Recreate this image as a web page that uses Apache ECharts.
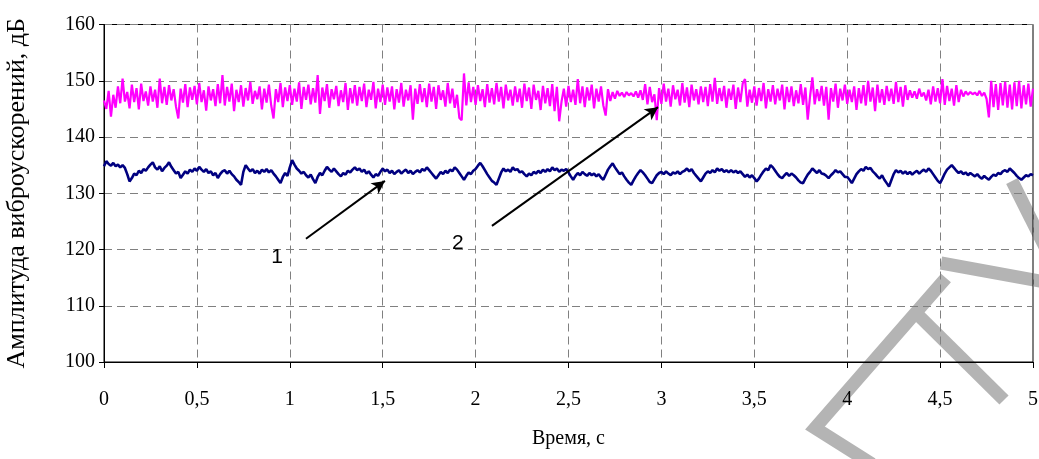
<!DOCTYPE html>
<html>
<head>
<meta charset="utf-8">
<script src="https://cdn.jsdelivr.net/npm/echarts@6/dist/echarts.min.js"></script>
<style>
html,body{margin:0;padding:0;background:#fff;}
#chart{width:1039px;height:459px;}
</style>
</head>
<body>
<div id="chart"></div>
<script>
// ---- data ----
const timeStep = 0.0125; // s between samples
const xTicks = [0, 0.5, 1, 1.5, 2, 2.5, 3, 3.5, 4, 4.5, 5];
const yTicks = [100, 110, 120, 130, 140, 150, 160];

const series2 = [ // magenta, curve 2
146.5,145.0,148.2,143.6,147.5,145.2,149.0,146.0,150.4,146.3,
148.0,145.1,149.3,146.2,148.7,144.9,149.5,146.4,148.1,145.6,
149.0,146.3,148.4,145.2,150.4,146.0,148.9,145.7,149.2,146.5,
148.5,145.4,143.3,148.6,146.1,149.4,145.3,148.8,146.6,149.1,
145.8,149.6,146.2,148.3,144.7,149.0,146.5,148.5,145.5,149.4,
146.0,151.0,145.6,148.9,146.3,149.5,144.6,148.4,146.2,149.2,
145.4,148.7,146.5,149.8,145.9,148.2,146.7,149.0,144.9,148.6,
146.1,149.3,145.6,143.3,148.5,146.2,149.6,145.3,148.8,146.4,
149.2,145.7,148.6,146.3,149.7,145.0,148.9,146.6,149.3,145.8,
148.7,146.1,151.0,144.1,148.8,146.4,149.4,145.2,148.5,146.7,
149.1,145.5,148.3,146.2,149.6,144.8,148.7,146.0,149.2,145.6,
148.9,146.4,149.5,145.3,148.4,146.6,149.8,145.1,148.6,146.2,
149.3,145.7,148.8,146.3,149.0,144.9,148.5,146.1,149.6,145.4,
148.4,146.5,149.2,143.1,148.6,145.9,149.4,146.2,148.7,145.3,
149.5,146.3,148.9,145.0,149.2,146.6,148.3,145.4,149.6,146.0,
148.6,145.2,147.5,143.4,143.0,151.3,145.6,149.7,146.2,148.9,
145.7,149.2,146.4,148.5,145.3,149.4,146.1,148.7,145.8,149.6,
146.3,148.9,145.1,149.3,146.5,148.4,145.6,149.0,146.2,148.6,
145.2,149.5,146.4,148.8,145.0,149.3,146.6,148.2,144.8,149.1,
146.0,148.7,145.5,149.4,144.6,148.9,142.8,146.3,148.6,145.4,
149.1,146.2,148.4,145.7,150.3,146.0,149.0,145.3,148.8,146.5,
149.3,145.1,148.6,146.3,149.0,145.6,143.8,148.5,146.4,148.0,
146.8,148.2,147.3,147.9,147.1,148.0,147.4,147.8,147.2,148.1,
147.0,148.3,146.6,149.4,145.8,148.9,146.2,147.6,143.0,148.7,
145.9,149.5,146.3,148.6,145.4,149.2,146.7,148.4,145.6,149.6,
146.1,148.8,145.3,149.3,146.5,148.5,145.8,149.0,146.2,148.9,
145.5,149.4,146.3,150.5,145.9,148.7,146.4,149.1,145.2,148.6,
146.6,149.3,145.0,148.8,146.2,149.5,150.3,145.4,148.4,146.1,
149.0,145.6,148.7,146.4,149.6,145.1,148.5,146.3,149.2,145.8,
148.6,146.5,149.3,144.9,148.9,146.2,149.0,145.5,148.3,146.0,
149.4,145.7,148.8,143.1,147.2,150.6,145.8,148.5,146.4,149.1,
145.6,148.9,143.1,148.7,146.3,149.5,145.2,148.6,146.5,149.3,
145.9,148.4,146.2,149.0,144.8,148.7,146.0,149.2,145.6,150.0,
146.3,148.8,144.6,149.3,146.1,148.5,145.7,149.1,146.4,148.6,
145.9,149.8,146.2,148.9,145.4,149.2,146.6,148.3,147.0,148.1,
146.8,148.6,147.2,147.9,146.5,148.4,145.8,149.0,146.3,148.7,
146.0,150.3,145.7,149.1,146.4,148.6,145.6,149.2,146.2,148.4,
147.2,148.1,147.5,148.0,147.6,147.9,147.4,148.2,147.3,147.9,
146.8,143.5,150.0,145.3,149.4,144.8,149.6,145.6,149.8,145.2,
149.3,144.9,149.7,145.5,150.0,145.1,149.2,145.8,149.5,145.4,
148.6
];

const series1 = [ // navy, curve 1
134.8,135.7,135.2,134.9,135.4,134.8,135.1,134.6,135.0,134.5,
133.4,132.1,132.7,133.5,133.2,134.0,133.6,134.3,134.0,134.6,
135.1,135.5,134.6,134.2,134.8,133.9,134.5,134.9,135.5,134.7,
134.1,133.5,133.8,132.7,133.3,133.9,133.5,134.2,133.8,134.4,
134.0,134.7,134.2,133.8,134.3,133.6,133.9,133.2,133.6,132.7,
133.4,133.9,134.1,133.5,134.0,133.4,133.0,132.4,132.0,131.5,
133.8,135.0,134.4,133.9,134.3,133.6,134.0,133.5,134.2,133.8,
134.3,133.7,134.1,133.5,133.0,132.4,131.8,132.9,133.6,133.1,
134.6,135.9,135.1,134.4,134.0,133.5,133.8,133.2,132.8,133.3,
132.5,131.8,132.9,133.6,133.2,134.0,134.7,134.2,133.8,134.4,
133.9,133.4,133.0,133.6,133.3,134.0,133.7,134.2,134.6,134.1,
134.4,133.8,134.2,133.5,133.9,133.3,132.8,133.4,133.1,133.8,
134.4,133.9,134.2,133.6,134.0,133.4,133.8,134.1,133.5,133.9,
134.2,133.6,134.0,133.4,133.8,134.1,133.7,134.3,134.0,134.6,
134.1,133.6,133.1,132.6,133.2,133.8,133.4,134.0,133.6,134.2,
133.9,134.6,134.2,133.6,133.0,132.4,133.1,133.7,133.4,134.0,
134.3,134.9,135.4,134.8,134.1,133.4,132.8,132.2,131.9,131.5,
132.6,133.7,134.4,133.9,134.2,133.8,134.6,134.1,134.3,133.7,
133.9,133.4,133.0,133.5,133.2,133.8,133.5,134.0,133.6,134.2,
133.8,134.3,133.9,134.6,134.1,134.4,133.8,134.2,134.0,134.3,
133.7,133.0,132.4,133.1,133.6,133.2,133.8,133.4,133.1,133.6,
133.2,133.5,133.0,133.4,132.8,132.4,133.3,134.2,134.8,135.3,
134.6,134.0,133.4,133.7,133.0,132.4,131.9,131.5,132.3,133.0,
133.6,134.1,133.7,133.2,132.6,132.0,131.8,132.5,133.2,133.6,
133.8,133.4,133.9,133.5,133.2,133.7,133.5,133.9,133.4,133.8,
134.0,134.4,133.9,134.3,133.6,133.1,132.6,132.1,132.8,133.5,
133.9,133.6,134.1,133.7,134.4,134.0,134.3,133.8,134.1,133.7,
134.1,133.7,134.0,133.6,133.9,133.4,132.9,133.3,132.8,133.2,
132.7,132.1,132.6,133.3,133.9,134.4,134.1,135.0,134.6,134.0,
133.4,132.9,132.7,133.2,133.6,133.1,133.5,133.2,132.8,132.3,
131.9,131.8,132.6,133.3,133.8,134.4,134.0,133.6,134.1,133.5,
133.4,133.1,132.7,133.2,133.6,134.1,133.7,133.9,133.4,132.9,
132.9,132.4,131.8,132.6,133.4,133.9,134.3,134.0,134.7,134.3,
134.5,133.9,133.5,133.0,132.6,133.2,132.4,131.8,131.2,132.3,
133.4,134.1,133.7,134.0,133.5,133.9,133.4,133.8,133.3,133.7,
134.0,133.5,133.9,134.2,133.8,134.4,134.0,133.4,132.8,132.2,
131.8,132.6,133.5,134.2,134.6,135.0,134.5,134.0,133.6,133.9,
133.4,133.7,133.2,133.6,133.3,133.0,133.4,132.9,132.6,133.1,
132.7,132.4,132.9,133.3,133.1,133.6,133.4,133.9,134.1,133.8,
134.4,134.0,133.6,133.1,132.7,132.4,132.8,133.2,133.0,133.4,
133.2
];

// annotation arrows (data coordinates: [time, dB])
const arrow1 = [[1.087, 121.9], [1.512, 132.2]];
const arrow2 = [[2.088, 124.2], [2.982, 145.3]];
const label1 = [0.931, 118.7];
const label2 = [1.905, 121.2];

const xName = 'Время, с';
const yName = 'Амплитуда виброускорений, дБ';

// ---- chart ----
const toPairs = arr => arr.map((v, i) => [+(i * timeStep).toFixed(4), v]);
const chart = echarts.init(document.getElementById('chart'), null, {renderer: 'canvas'});
const serif = '"Liberation Serif","Times New Roman",serif';
const wmColor = '#b4b4b4';
const wm = (pts) => ({
  type: 'polyline', z: -10, silent: true,
  shape: {points: pts},
  style: {stroke: wmColor, lineWidth: 13, fill: null, lineJoin: 'miter', lineCap: 'butt'}
});

chart.setOption({
  animation: false,
  backgroundColor: '#fff',
  grid: {left: 104, right: 6, top: 24.5, bottom: 97, show: true, borderColor: '#000', borderWidth: 1,
    backgroundColor: 'transparent', containLabel: false, outerBoundsMode: 'none'},
  graphic: [
    wm([[872, 464], [815, 428], [946, 278]]),
    wm([[913, 310], [1004, 400]]),
    wm([[941, 263], [1045, 282]]),
    wm([[1012, 181], [1046, 249]])
  ],
  xAxis: {
    type: 'value', min: xTicks[0], max: xTicks[xTicks.length - 1], interval: 0.5,
    name: xName, nameLocation: 'middle', nameGap: 67,
    nameTextStyle: {fontFamily: serif, fontSize: 20, color: '#000'},
    axisLine: {lineStyle: {color: '#000', width: 1}},
    axisTick: {show: true, length: 6, lineStyle: {color: '#000'}},
    axisLabel: {fontFamily: serif, fontSize: 20, color: '#000', margin: 28,
      formatter: v => String(v).replace('.', ',')},
    splitLine: {show: true, lineStyle: {color: '#808080', type: [8, 5], width: 1}}
  },
  yAxis: {
    type: 'value', min: yTicks[0], max: yTicks[yTicks.length - 1], interval: 10,
    name: yName, nameLocation: 'middle', nameGap: 74,
    nameTextStyle: {fontFamily: serif, fontSize: 26, color: '#000'},
    axisLine: {show: true, lineStyle: {color: '#000', width: 1}},
    axisTick: {show: true, length: 5, lineStyle: {color: '#000'}},
    axisLabel: {fontFamily: serif, fontSize: 20, color: '#000', margin: 9},
    splitLine: {show: true, lineStyle: {color: '#808080', type: [8, 5], width: 1}}
  },
  series: [
    {
      name: '2', type: 'line', data: toPairs(series2), showSymbol: false, z: 3,
      lineStyle: {color: '#ff00ff', width: 2.2}, itemStyle: {color: '#ff00ff'}
    },
    {
      name: '1', type: 'line', data: toPairs(series1), showSymbol: false, z: 4,
      lineStyle: {color: '#000080', width: 2.6}, itemStyle: {color: '#000080'},
      markLine: {
        silent: true, symbol: ['none', 'arrow'], symbolSize: [10, 13],
        lineStyle: {color: '#000', width: 2, type: 'solid'},
        label: {show: false},
        data: [
          [{coord: arrow1[0]}, {coord: arrow1[1]}],
          [{coord: arrow2[0]}, {coord: arrow2[1]}]
        ]
      },
      markPoint: {
        silent: true, symbol: 'circle', symbolSize: 1,
        itemStyle: {color: 'rgba(0,0,0,0)'},
        label: {show: true, position: 'inside', color: '#000', fontSize: 21,
          fontFamily: '"Liberation Sans",Arial,sans-serif'},
        data: [
          {coord: label1, value: '1', label: {formatter: '1'}},
          {coord: label2, value: '2', label: {formatter: '2'}}
        ]
      }
    }
  ]
});
</script>
</body>
</html>
